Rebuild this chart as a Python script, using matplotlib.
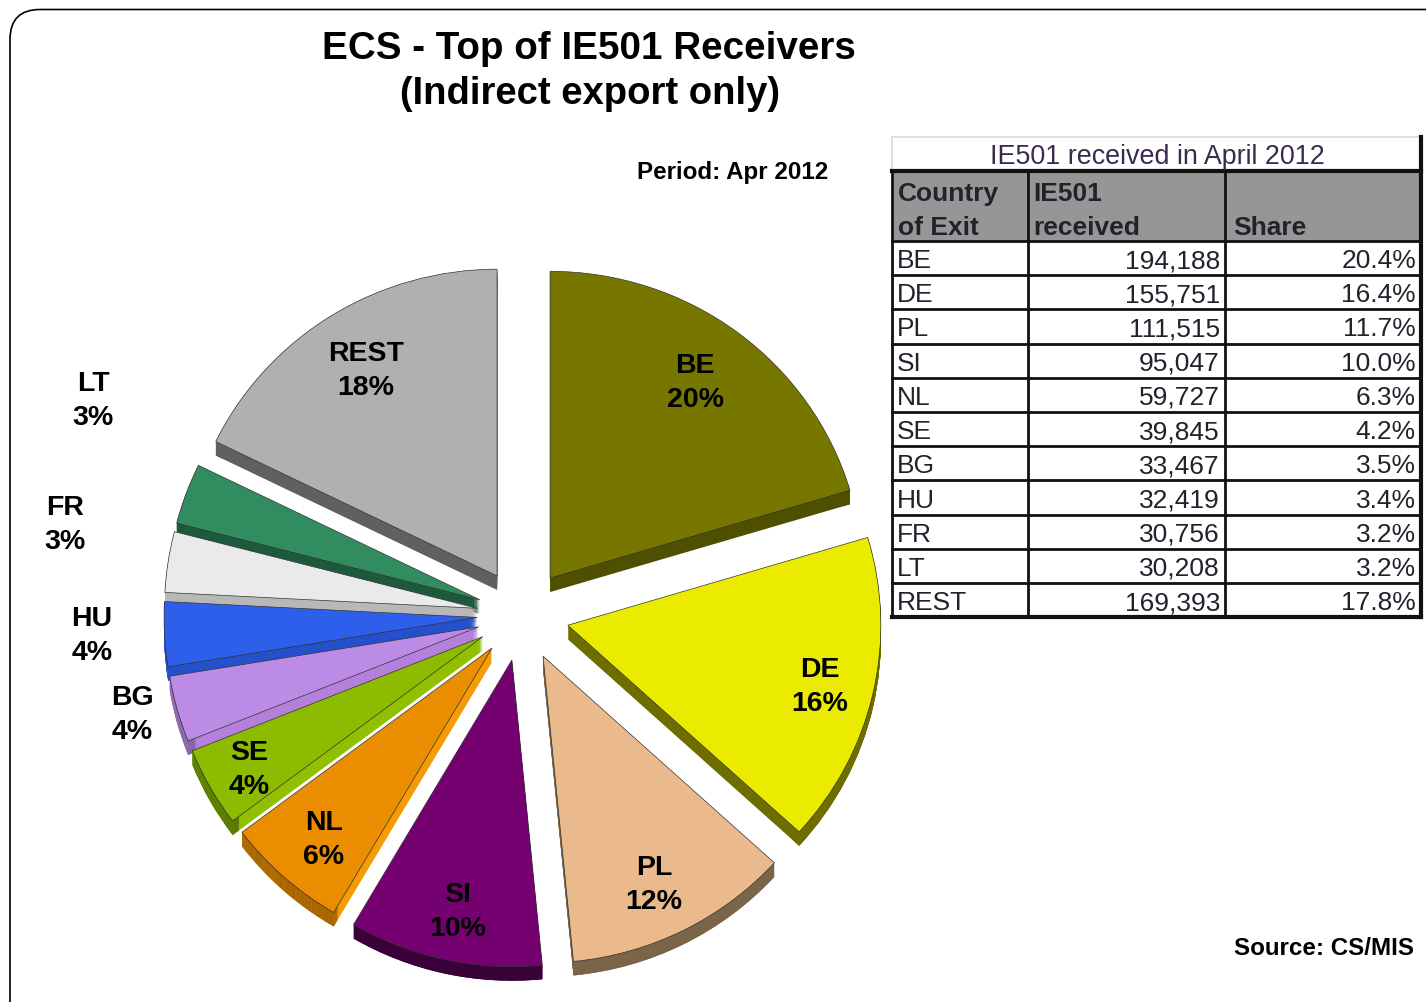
import matplotlib
matplotlib.use("Agg")
import matplotlib.pyplot as plt
from matplotlib.patches import FancyBboxPatch, Rectangle

plt.rcParams['font.family'] = ['Liberation Sans', 'DejaVu Sans']

countries = ['BE', 'DE', 'PL', 'SI', 'NL', 'SE', 'BG', 'HU', 'FR', 'LT', 'REST']
received = [194188, 155751, 111515, 95047, 59727, 39845, 33467, 32419, 30756, 30208, 169393]
shares = [20.4, 16.4, 11.7, 10.0, 6.3, 4.2, 3.5, 3.4, 3.2, 3.2, 17.8]
top_colors = ['#777700', '#EBEB00', '#EAB98C', '#750070', '#EA8D00', '#8DBB00',
              '#BB8BE6', '#2E5FEA', '#EAEAEA', '#318D60', '#B0B0B0']
side_colors = ['#4F4F00', '#6E6E00', '#7A6548', '#3A0038', '#F59B05', '#92C000',
               '#B580DC', '#2450CC', '#B8B8B8', '#1D5A3D', '#606060']
rim_colors = ['#4F4F00', '#6E6E00', '#7A6548', '#3A0038', '#9B5C00', '#4D6A00',
              '#8060A0', '#2450CC', '#B8B8B8', '#1D5A3D', '#606060']
pie_labels = ['BE\n20%', 'DE\n16%', 'PL\n12%', 'SI\n10%', 'NL\n6%', 'SE\n4%',
              'BG\n4%', 'HU\n4%', 'FR\n3%', 'LT\n3%', 'REST\n18%']
label_x = [695, 820, 654, 458, 324, 249, 132, 92, 65, 93, 366]
label_y = [383, 687, 885, 912, 840, 770, 715, 636, 525, 401, 371]

W, H = 1426, 1003
CX, CY, R = 522, 616, 313
DEPTH = 14
SQUASH = 0.98  # pie is slightly flatter than a circle


def Y(py):
    return H - py


fig = plt.figure(figsize=(W / 100, H / 100), dpi=100)

# rounded frame, runs off the right and bottom of the picture
frame_ax = fig.add_axes([0, 0, 1, 1], zorder=0)
frame_ax.set_xlim(0, W)
frame_ax.set_ylim(0, H)
frame_ax.axis('off')
frame_ax.add_patch(FancyBboxPatch((10, -40), W + 40, H - 10.5 + 40,
                                  boxstyle="round,pad=0,rounding_size=30",
                                  fc='white', ec='black', lw=1.2))

# pie has its own axes so y can be squashed around the centre
pax = fig.add_axes([0, 0, 1, 1], zorder=1)
pax.patch.set_alpha(0)
explode = [47, 47, 47, 47, 45, 45, 45, 45, 45, 45, 47]  # data units, same as the radius

# side of the 3d pie, stacked copies pushed down
for d in range(DEPTH, 0, -1):
    pax.pie(shares, colors=side_colors, startangle=90, counterclock=False, explode=explode,
            radius=R, center=(CX, -d / SQUASH), frame=True, wedgeprops={'lw': 0})
    pax.pie(shares, colors=rim_colors, startangle=90, counterclock=False, explode=explode,
            radius=R, center=(CX, -d / SQUASH), frame=True, wedgeprops={'lw': 0, 'width': 8})
pax.pie(shares, colors=top_colors, startangle=90, counterclock=False, explode=explode,
        radius=R, center=(CX, 0), frame=True,
        wedgeprops={'lw': 0.5, 'edgecolor': '#333333'})
pax.set_aspect('auto')
pax.set_xlim(0, W)
pax.set_ylim(-(H - CY) / SQUASH, CY / SQUASH)
pax.axis('off')

# text and table on top
ax = fig.add_axes([0, 0, 1, 1], zorder=2)
ax.patch.set_alpha(0)

for lab, x, y in zip(pie_labels, label_x, label_y):
    ax.text(x, Y(y), lab, ha='center', va='center', fontsize=20.5, fontweight='bold',
            linespacing=1.36, color='black', zorder=20)

ax.text(589, Y(49), 'ECS - Top of IE501 Receivers', ha='center', va='center',
        fontsize=27.8, fontweight='bold')
ax.text(590, Y(94), '(Indirect export only)', ha='center', va='center',
        fontsize=27.5, fontweight='bold')
ax.text(733, Y(172), 'Period: Apr 2012', ha='center', va='center', fontsize=17.4, fontweight='bold')
ax.text(1324, Y(949), 'Source: CS/MIS', ha='center', va='center', fontsize=17.4, fontweight='bold')

# table on the right
col_x = [892, 1028, 1225, 1420]
row_h = 34.2
top = 242
n = len(countries)
bottom = top + n * row_h
txt = '#24202C'

ax.add_patch(Rectangle((892, Y(242)), 1420 - 892, 70, fc='#969696', ec='none', zorder=5))
ax.plot([892, 1420, 1420], [Y(138), Y(138), Y(172)], color='#D4D8E8', lw=1.2, zorder=6)
ax.plot([892, 892], [Y(138), Y(172)], color='#D4D8E8', lw=1.2, zorder=6)
ax.text(1157, Y(157), 'IE501 received in April 2012', ha='center', va='center',
        fontsize=19.4, color='#3A2A50', zorder=7)

ax.plot([892, 1421], [Y(172), Y(172)], color='#111111', lw=3, zorder=6)
ax.plot([892, 1421], [Y(bottom), Y(bottom)], color='#111111', lw=3, zorder=6)
ax.plot([1420.5, 1420.5], [Y(138), Y(bottom)], color='#111111', lw=3, zorder=6)
for i in range(n + 1):
    y = top + i * row_h
    ax.plot([892, 1420], [Y(y), Y(y)], color='#111111', lw=2, zorder=6)
for x in col_x[:3]:
    ax.plot([x, x], [Y(172), Y(bottom)], color='#111111', lw=2, zorder=6)

ax.text(898, Y(194), 'Country', ha='left', va='center', fontsize=19, fontweight='bold', color=txt, zorder=7)
ax.text(898, Y(228), 'of Exit', ha='left', va='center', fontsize=19, fontweight='bold', color=txt, zorder=7)
ax.text(1033, Y(194), 'IE501', ha='left', va='center', fontsize=19, fontweight='bold', color=txt, zorder=7)
ax.text(1033, Y(228), 'received', ha='left', va='center', fontsize=19, fontweight='bold', color=txt, zorder=7)
ax.text(1233, Y(228), 'Share', ha='left', va='center', fontsize=19, fontweight='bold', color=txt, zorder=7)

for i, (c, v, s) in enumerate(zip(countries, received, shares)):
    y = top + (i + 0.5) * row_h + 2
    ax.text(897, Y(y), c, ha='left', va='center', fontsize=19, color=txt, zorder=7)
    ax.text(1220, Y(y), f'{v:,}', ha='right', va='center', fontsize=19, color=txt, zorder=7)
    ax.text(1416, Y(y), f'{s:.1f}%', ha='right', va='center', fontsize=19, color=txt, zorder=7)

ax.set_xlim(0, W)
ax.set_ylim(0, H)
ax.axis('off')
fig.savefig('out.png', dpi=100, facecolor='white')
